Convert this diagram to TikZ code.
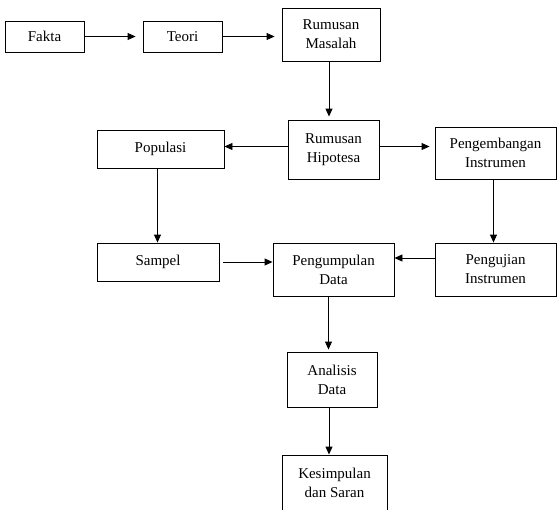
\documentclass[tikz,border=0pt]{standalone}
\usepackage{fontspec}
\setmainfont{Liberation Serif}
\usetikzlibrary{positioning,arrows.meta,calc}
\tikzset{
  blk/.style ={rectangle, draw=black, line width=0.9pt, fill=white, align=center,
               font=\fontsize{15}{19}\selectfont, inner sep=2pt},
  fl/.style  ={-{Triangle[length=8pt,width=7pt]}, line width=0.9pt}
}
\begin{document}
\begin{tikzpicture}[x=1pt,y=-1pt]
  \useasboundingbox (0,0) rectangle (557,509);
  % top row
  \node[blk,minimum width=79pt,minimum height=31pt] (fakta) at (44.5,36.5) {Fakta};
  \node[blk,minimum width=79pt,minimum height=31pt] (teori) at (182.5,36.5) {Teori};
  \node[blk,minimum width=98pt,minimum height=53pt] (rmas) at (331,34.5) {Rumusan\\Masalah};
  % middle rows
  \node[blk,minimum width=91pt,minimum height=59pt] (rhip) at (333.5,149.5) {Rumusan\\Hipotesa};
  \node[blk,minimum width=127pt,minimum height=38pt] (pop) at (160.5,149) {Populasi};
  \node[blk,minimum width=121pt,minimum height=52pt] (pins) at (495.5,153) {Pengembangan\\Instrumen};
  \node[blk,minimum width=122pt,minimum height=38pt] (smp) at (158,262) {Sampel};
  \node[blk,minimum width=121pt,minimum height=53pt] (pdat) at (333.5,269.5) {Pengumpulan\\Data};
  \node[blk,minimum width=121pt,minimum height=53pt] (uins) at (495.5,269.5) {Pengujian\\Instrumen};
  % bottom
  \node[blk,minimum width=90pt,minimum height=55pt] (adat) at (332,379.5) {Analisis\\Data};
  \node[blk,minimum width=105pt,minimum height=55pt] (kes) at (334.5,482.5) {Kesimpulan\\dan Saran};

  \draw[fl,shorten >=7pt] (fakta) -- (teori);
  \draw[fl,shorten >=7pt] (teori.east) -- (teori.east -| rmas.west);
  \draw[fl,shorten >=3pt] ([xshift=-2pt]rmas.south) -- ([xshift=-2pt]rmas.south |- rhip.north);
  \draw[fl] ([yshift=3pt]rhip.west) -- ([yshift=3pt]rhip.west -| pop.east);
  \draw[fl,shorten >=5pt] ([yshift=3pt]rhip.east) -- ([yshift=3pt]rhip.east -| pins.west);
  \draw[fl] ([xshift=-3pt]pop.south) -- ([xshift=-3pt]pop.south |- smp.north);
  \draw[fl] ([xshift=-2pt]pins.south) -- ([xshift=-2pt]pins.south |- uins.north);
  \draw[fl] ([yshift=11.5pt]uins.west) -- ([yshift=11.5pt]uins.west -| pdat.east);
  \draw[fl,shorten <=4pt] (smp.east) -- (smp.east -| pdat.west);
  \draw[fl,shorten >=2pt] ([xshift=-5pt]pdat.south) -- ([xshift=-5pt]pdat.south |- adat.north);
  \draw[fl] ([xshift=-3pt]adat.south) -- ([xshift=-3pt]adat.south |- kes.north);
\end{tikzpicture}
\end{document}
